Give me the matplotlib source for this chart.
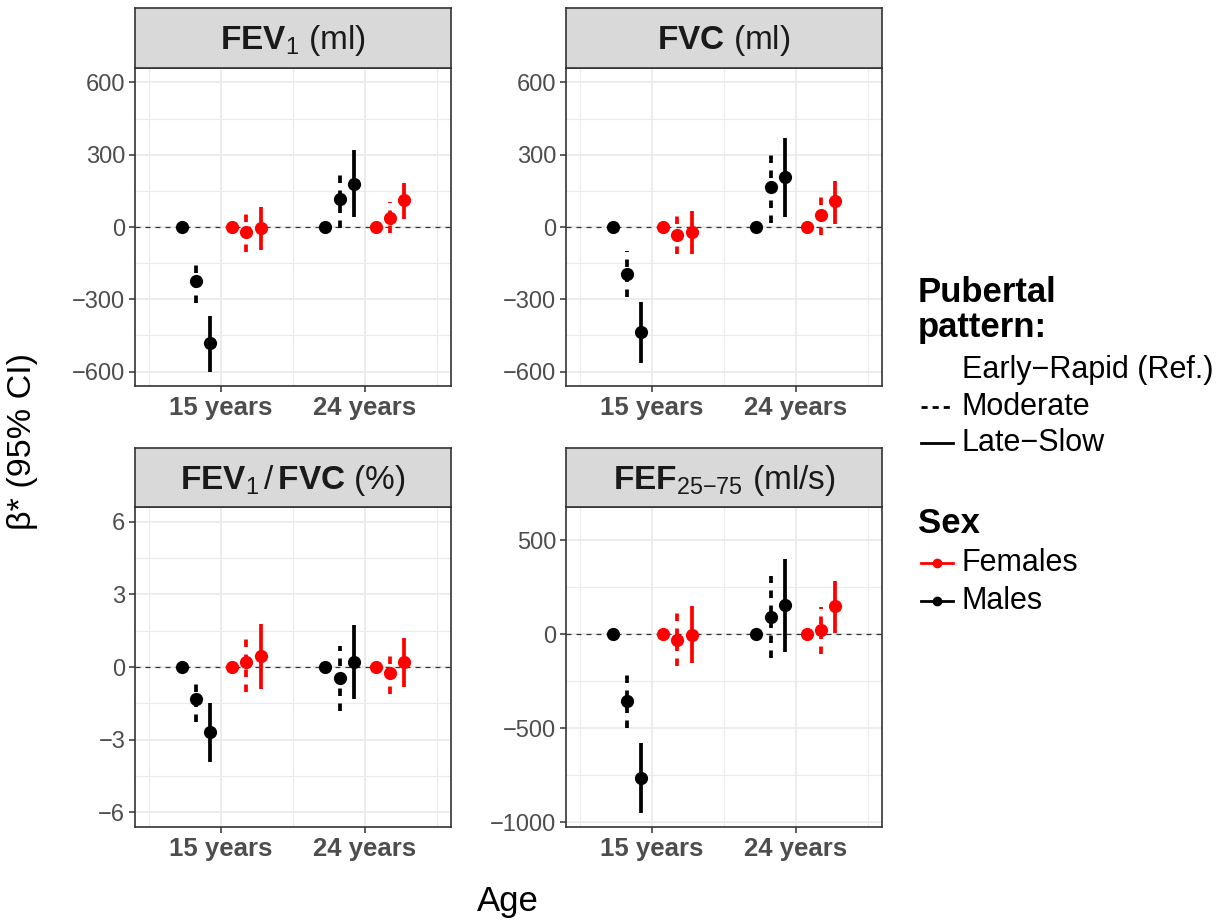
import matplotlib
matplotlib.use("Agg")
import matplotlib.pyplot as plt
from matplotlib.lines import Line2D
import numpy as np

plt.rcParams['font.family'] = ['Liberation Sans', 'DejaVu Sans']
plt.rcParams['mathtext.fontset'] = 'custom'
plt.rcParams['mathtext.rm'] = 'Liberation Sans'
plt.rcParams['mathtext.bf'] = 'Liberation Sans:bold'
plt.rcParams['mathtext.it'] = 'Liberation Sans:italic'

# ---------------- data ----------------
ages = ["15 years", "24 years"]
patterns = ["Early\u2212Rapid (Ref.)", "Moderate", "Late\u2212Slow"]
sexes = ["Females", "Males"]
sex_colors = {"Females": "#FF0000", "Males": "#000000"}
pattern_styles = {"Moderate": (0, (2, 2)), "Late\u2212Slow": "-"}

# estimate, lower, upper indexed [age][pattern]  (Early-Rapid = reference, 0)
fev1_males_est = [[0, -225, -482], [0, 115, 180]]
fev1_males_lo = [[0, -315, -600], [0, -6, 42]]
fev1_males_hi = [[0, -140, -371], [0, 240, 321]]
fev1_females_est = [[0, -19, -5], [0, 39, 111]]
fev1_females_lo = [[0, -104, -97], [0, -26, 35]]
fev1_females_hi = [[0, 60, 85], [0, 104, 182]]

fvc_males_est = [[0, -194, -436], [0, 164, 206]]
fvc_males_lo = [[0, -290, -565], [0, 18, 42]]
fvc_males_hi = [[0, -100, -312], [0, 306, 368]]
fvc_females_est = [[0, -33, -22], [0, 49, 106]]
fvc_females_lo = [[0, -114, -111], [0, -33, 14]]
fvc_females_hi = [[0, 49, 65], [0, 126, 193]]

ratio_males_est = [[0, -1.31, -2.68], [0, -0.47, 0.22]]
ratio_males_lo = [[0, -2.28, -3.92], [0, -1.82, -1.34]]
ratio_males_hi = [[0, -0.41, -1.48], [0, 0.87, 1.72]]
ratio_females_est = [[0, 0.22, 0.46], [0, -0.23, 0.21]]
ratio_females_lo = [[0, -1.03, -0.90], [0, -1.13, -0.81]]
ratio_females_hi = [[0, 1.45, 1.77], [0, 0.66, 1.19]]

fef_males_est = [[0, -356, -762], [0, 92, 158]]
fef_males_lo = [[0, -498, -949], [0, -126, -94]]
fef_males_hi = [[0, -215, -578], [0, 309, 402]]
fef_females_est = [[0, -28, -2], [0, 21, 149]]
fef_females_lo = [[0, -170, -152], [0, -103, 9]]
fef_females_hi = [[0, 115, 151], [0, 145, 282]]

MINUS = "\u2212"
panel_titles = [r"$\mathbf{FEV}_{\mathrm{1}}$ (ml)",
                r"$\mathbf{FVC}$ (ml)",
                r"$\mathbf{FEV}_{\mathrm{1}}\,/\,\mathbf{FVC}$ (%)",
                r"$\mathbf{FEF}_{\mathrm{25{" + MINUS + r"}75}}$ (ml/s)"]
y_ticks = [[-600, -300, 0, 300, 600], [-600, -300, 0, 300, 600],
           [-6, -3, 0, 3, 6], [-1000, -500, 0, 500]]
y_limits = [(-660, 660), (-660, 660), (-6.6, 6.6), (-1025, 678)]

panel_data = [
    {"Males": (fev1_males_est, fev1_males_lo, fev1_males_hi),
     "Females": (fev1_females_est, fev1_females_lo, fev1_females_hi)},
    {"Males": (fvc_males_est, fvc_males_lo, fvc_males_hi),
     "Females": (fvc_females_est, fvc_females_lo, fvc_females_hi)},
    {"Males": (ratio_males_est, ratio_males_lo, ratio_males_hi),
     "Females": (ratio_females_est, ratio_females_lo, ratio_females_hi)},
    {"Males": (fef_males_est, fef_males_lo, fef_males_hi),
     "Females": (fef_females_est, fef_females_lo, fef_females_hi)},
]

# dodge offsets within each age group
offsets = {"Males": [-0.275, -0.175, -0.075], "Females": [0.075, 0.175, 0.275]}

# ---------------- layout ----------------
W, H = 1217, 921
fig = plt.figure(figsize=(W / 100, H / 100), dpi=100)


def rect(x0, y0, x1, y1):
    return [x0 / W, 1 - y1 / H, (x1 - x0) / W, (y1 - y0) / H]


cols = [(135, 451), (566, 882)]
rows = [((8, 68), (68, 386)), ((448, 507), (507, 827))]

GRID = "#EBEBEB"
DARK = "#333333"
TXT = "#4D4D4D"

for i in range(4):
    r, c = divmod(i, 2)
    (sy0, sy1), (py0, py1) = rows[r]
    x0, x1 = cols[c]
    ax = fig.add_axes(rect(x0, py0, x1, py1))
    ax.set_xlim(0.4, 2.6)
    ax.set_ylim(*y_limits[i])
    ax.set_xticks([1, 2])
    ax.set_xticklabels(ages, fontweight="bold", fontsize=18.5)
    ax.set_xticks([0.5, 1.5, 2.5], minor=True)
    yt = y_ticks[i]
    ax.set_yticks(yt)
    ax.set_yticklabels([str(v).replace("-", MINUS) for v in yt], fontsize=17)
    ax.set_yticks([(a + b) / 2 for a, b in zip(yt[:-1], yt[1:])], minor=True)
    ax.grid(which="major", color=GRID, lw=1.3, zorder=0)
    ax.grid(which="minor", color=GRID, lw=0.8, zorder=0)
    ax.set_axisbelow(True)
    ax.tick_params(which="minor", length=0)
    ax.tick_params(which="major", length=4, width=1.1, color=DARK,
                   labelcolor=TXT, pad=3)
    for s in ax.spines.values():
        s.set_color(DARK)
        s.set_linewidth(1.2)
    ax.axhline(0, color=DARK, lw=0.9, ls=(0, (4, 4)), zorder=1)

    for sex in ["Males", "Females"]:
        est, lo, hi = panel_data[i][sex]
        col = sex_colors[sex]
        for a in range(2):
            for p in range(3):
                x = a + 1 + offsets[sex][p]
                if p > 0:
                    ax.plot([x, x], [lo[a][p], hi[a][p]], color=col, lw=2.7,
                            ls=pattern_styles[patterns[p]], zorder=2,
                            solid_capstyle="butt", dash_capstyle="butt")
                ax.plot([x], [est[a][p]], "o", color=col, ms=9.5, mec="none", zorder=3)

    sax = fig.add_axes(rect(x0, sy0, x1, sy1))
    sax.set_facecolor("#D9D9D9")
    sax.set_xticks([])
    sax.set_yticks([])
    for s in sax.spines.values():
        s.set_color(DARK)
        s.set_linewidth(1.2)
    sax.text(0.5, 0.45, panel_titles[i], ha="center", va="center", fontsize=24,
             color="#1A1A1A", transform=sax.transAxes)

# axis titles
fig.text(23 / W, 1 - 442 / H, "\u03b2* (95% CI)", rotation=90, fontsize=24.5,
         ha="center", va="center")
fig.text(508 / W, 1 - 901 / H, "Age", fontsize=25, ha="center", va="center")


# ---------------- legends ----------------
def fx(px):
    return px / W


def fy(py):
    return 1 - py / H


fig.text(fx(918), fy(292), "Pubertal", fontsize=25, fontweight="bold", va="center")
fig.text(fx(918), fy(327), "pattern:", fontsize=25, fontweight="bold", va="center")
leg_rows = [370, 407, 443]
for p, yy in zip(range(3), leg_rows):
    fig.text(fx(962), fy(yy), patterns[p], fontsize=22, va="center")
    if p > 0:
        fig.add_artist(Line2D([fx(921), fx(953)], [fy(yy), fy(yy)], color="black",
                              lw=2.0, ls=(0, (2.2, 1.8)) if p == 1 else "-",
                              transform=fig.transFigure))

fig.text(fx(918), fy(523), "Sex", fontsize=25, fontweight="bold", va="center")
for sex, yy in zip(sexes, [563, 601]):
    col = sex_colors[sex]
    fig.add_artist(Line2D([fx(921), fx(953)], [fy(yy), fy(yy)], color=col, lw=2.0,
                          transform=fig.transFigure))
    fig.add_artist(Line2D([fx(937)], [fy(yy)], color=col, marker="o", ms=7,
                          mec="none", transform=fig.transFigure))
    fig.text(fx(962), fy(yy), sex, fontsize=22, va="center")

fig.savefig("out.png", dpi=100)
